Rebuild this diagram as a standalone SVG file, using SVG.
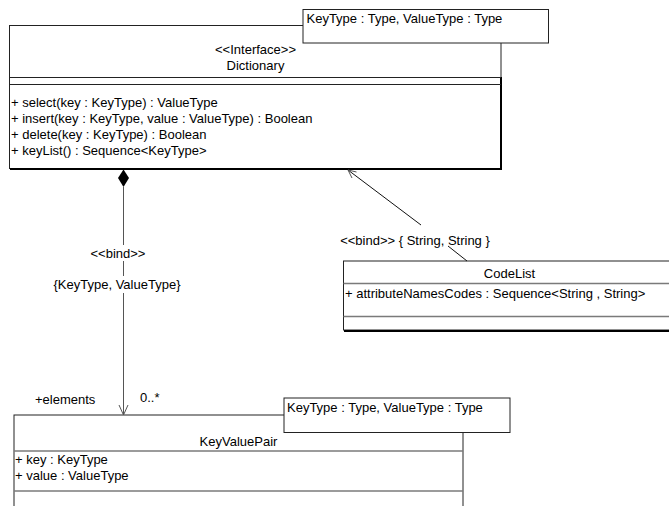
<svg xmlns="http://www.w3.org/2000/svg" width="669" height="506" viewBox="0 0 669 506">
<style>
text{font-family:"Liberation Sans",Arial,sans-serif;font-size:13px;fill:#000}
.mid{text-anchor:middle}
.box{fill:#fff;stroke:#222;stroke-width:1}
.tpl{fill:#fff;stroke:#222;stroke-width:1}
.sep{stroke:#222;stroke-width:1;fill:none}
.gsep{stroke:#7a7a7a;stroke-width:1.5;fill:none}
.shadow{stroke:#000;stroke-width:2;fill:none}
.conn{stroke:#555;stroke-width:1;fill:none}
.conn2{stroke:#111;stroke-width:1;fill:none}
</style>
<g id="Dictionary">
<rect class="box" x="9.5" y="25.5" width="491.5" height="143"/>
<path class="shadow" d="M501,77 V169 H10"/>
<line class="sep" x1="9.5" y1="77.5" x2="501" y2="77.5"/>
<line class="sep" x1="9.5" y1="84.5" x2="501" y2="84.5"/>
<text class="mid" x="255.5" y="54">&lt;&lt;Interface&gt;&gt;</text>
<text class="mid" x="255.5" y="70">Dictionary</text>
<text x="11" y="106.5">+ select(key : KeyType) : ValueType</text>
<text x="11" y="122.5">+ insert(key : KeyType, value : ValueType) : Boolean</text>
<text x="11" y="138.5">+ delete(key : KeyType) : Boolean</text>
<text x="11" y="154.5">+ keyList() : Sequence&lt;KeyType&gt;</text>
</g>
<g id="DictionaryTemplate">
<rect class="tpl" x="303" y="9.5" width="245.5" height="33.5"/>
<text x="306.5" y="22.5">KeyType : Type, ValueType : Type</text>
</g>
<g id="CodeList">
<rect class="box" x="343.5" y="261" width="332" height="69"/>
<path class="shadow" d="M344,331 H676"/>
<line class="gsep" x1="343.5" y1="283.5" x2="676" y2="283.5"/>
<line class="gsep" x1="343.5" y1="316.5" x2="676" y2="316.5"/>
<text class="mid" x="509.5" y="277.5">CodeList</text>
<text x="345" y="297.5">+ attributeNamesCodes : Sequence&lt;String , String&gt;</text>
</g>
<g id="KeyValuePair">
<rect class="box" x="14" y="415" width="449" height="110"/>
<line class="gsep" x1="14" y1="451" x2="463" y2="451"/>
<line class="gsep" x1="14" y1="491" x2="463" y2="491"/>
<text class="mid" x="238.5" y="446">KeyValuePair</text>
<text x="15" y="463.5">+ key : KeyType</text>
<text x="15" y="479.5">+ value : ValueType</text>
</g>
<g id="KeyValuePairTemplate">
<rect class="tpl" x="284" y="398" width="226" height="34.5"/>
<text x="287" y="412">KeyType : Type, ValueType : Type</text>
</g>
<g id="connectors">
<polygon points="123.5,169.5 129,178 123.5,187 118,178" fill="#000"/>
<path class="conn" d="M123.5,187 V245 M123.5,261 V276 M123.5,293 V415"/>
<polyline class="conn" points="119,405 123.5,415 128,405"/>
<text class="mid" x="118" y="257.5">&lt;&lt;bind&gt;&gt;</text>
<text class="mid" x="117" y="288.5">{KeyType, ValueType}</text>
<text x="35" y="404">+elements</text>
<text x="140" y="402">0..*</text>
<path class="conn2" d="M348,170 L421,225 M448,246 L467,261"/>
<polyline class="conn" points="352,178 348,170 356.5,172"/>
<text class="mid" x="415" y="245">&lt;&lt;bind&gt;&gt; { String, String }</text>
</g>
</svg>
